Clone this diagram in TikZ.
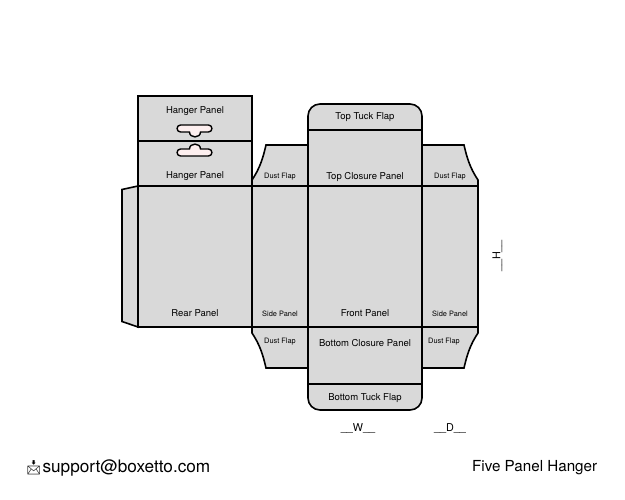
\documentclass[tikz,border=0pt]{standalone}
\usepackage{fontspec}
\setmainfont{TeX Gyre Heros}
\newfontfamily\iconfont{Noto Emoji}
\definecolor{panelgray}{HTML}{D9D9D9}
\definecolor{slotpink}{HTML}{FDEFEF}
\tikzset{
	dieline/.style={x=1pt, y=-1pt, line width=1.6pt, line join=miter},
	panel/.style={draw=black, fill=panelgray},
	slot/.style={draw=black, fill=slotpink, line width=1.4pt},
	name big/.style={font=\fontsize{9.5}{10}\selectfont, inner sep=0pt},
	name small/.style={font=\fontsize{7.4}{8}\selectfont, inner sep=0pt},
	dim/.style={font=\fontsize{10.8}{12}\selectfont, inner sep=0pt},
	foot/.style={font=\fontsize{15.2}{16}\selectfont, inner sep=0pt}
}
\begin{document}
\begin{tikzpicture}[dieline]
   \useasboundingbox (0,0) rectangle (625,500);
   % glue flap and hanger
   \draw[panel] (138,186) -- (122,189.5) -- (122,321.5) -- (138,327) -- cycle;
   \draw[panel] (138,96) rectangle (252,141);
   \draw[panel] (138,141) rectangle (252,186);
   % dust flaps
   \draw[panel] (252,186) -- (252,180) .. controls (260,168) and (263,158) .. (266,145) -- (308,145) -- (308,186) -- cycle;
   \draw[panel] (422,186) -- (422,145) -- (464,145) .. controls (467,158) and (470,168) .. (478,180) -- (478,186) -- cycle;
   \draw[panel] (252,327) -- (252,333) .. controls (260,345) and (263,355) .. (266,368) -- (308,368) -- (308,327) -- cycle;
   \draw[panel] (422,327) -- (422,368) -- (464,368) .. controls (467,355) and (470,345) .. (478,333) -- (478,327) -- cycle;
   % tuck flaps
   \draw[panel, rounded corners=12pt] (308,130) -- (308,104) -- (422,104) -- (422,130);
   \draw[panel, rounded corners=12pt] (308,384) -- (308,410) -- (422,410) -- (422,384);
   % main row
   \draw[panel] (308,130) rectangle (422,186);
   \draw[panel] (308,327) rectangle (422,384);
   \draw[panel] (138,186) rectangle (252,327);
   \draw[panel] (252,186) rectangle (308,327);
   \draw[panel] (308,186) rectangle (422,327);
   \draw[panel] (422,186) rectangle (478,327);
   % hang slots
   \draw[slot] (180.5,125) -- (208.5,125) .. controls (213,125) and (213,132) .. (208.5,132) -- (200.5,132)
      .. controls (200.5,138.5) and (189.5,138.5) .. (189.5,132) -- (180.5,132) .. controls (176,132) and (176,125) .. cycle;
   \draw[slot] (180.5,156) -- (208.5,156) .. controls (213,156) and (213,149) .. (208.5,149) -- (200.5,149)
      .. controls (200.5,142.5) and (189.5,142.5) .. (189.5,149) -- (180.5,149) .. controls (176,149) and (176,156) .. cycle;
   % labels
   \node[name big] (hangerA) at (195,111.5) {Hanger Panel};
   \node[name big] (hangerB) at (195,176.5) {Hanger Panel};
   \node[name big] (topTuck) at (365,117) {Top Tuck Flap};
   \node[name big] (topClosure) at (365,176.5) {Top Closure Panel};
   \node[name small] (dustA) at (280,176.5) {Dust Flap};
   \node[name small] (dustB) at (450,176.5) {Dust Flap};
   \node[name big] (rear) at (195,313) {Rear Panel};
   \node[name small] (sideA) at (280,313.5) {Side Panel};
   \node[name big] (front) at (365,313) {Front Panel};
   \node[name small] (sideB) at (450,313.5) {Side Panel};
   \node[name small] (dustC) at (280,341.5) {Dust Flap};
   \node[name small] (dustD) at (444,341.5) {Dust Flap};
   \node[name big] (botClosure) at (365,343) {Bottom Closure Panel};
   \node[name big] (botTuck) at (365,398) {Bottom Tuck Flap};
   \node[dim] (dimW) at (358,429) {\_\_W\_\_};
   \node[dim] (dimD) at (450,429) {\_\_D\_\_};
   \node[dim, rotate=90] (dimH) at (497.5,256) {\_\_H\_\_};
   \node[foot, anchor=west, font=\fontsize{17.2}{18}\selectfont] (mail) at (24,468) {{\iconfont\fontsize{14}{14}\selectfont 📩}support@boxetto.com};
   \node[foot, anchor=east] (title) at (598,468) {Five Panel Hanger};
\end{tikzpicture}
\end{document}
